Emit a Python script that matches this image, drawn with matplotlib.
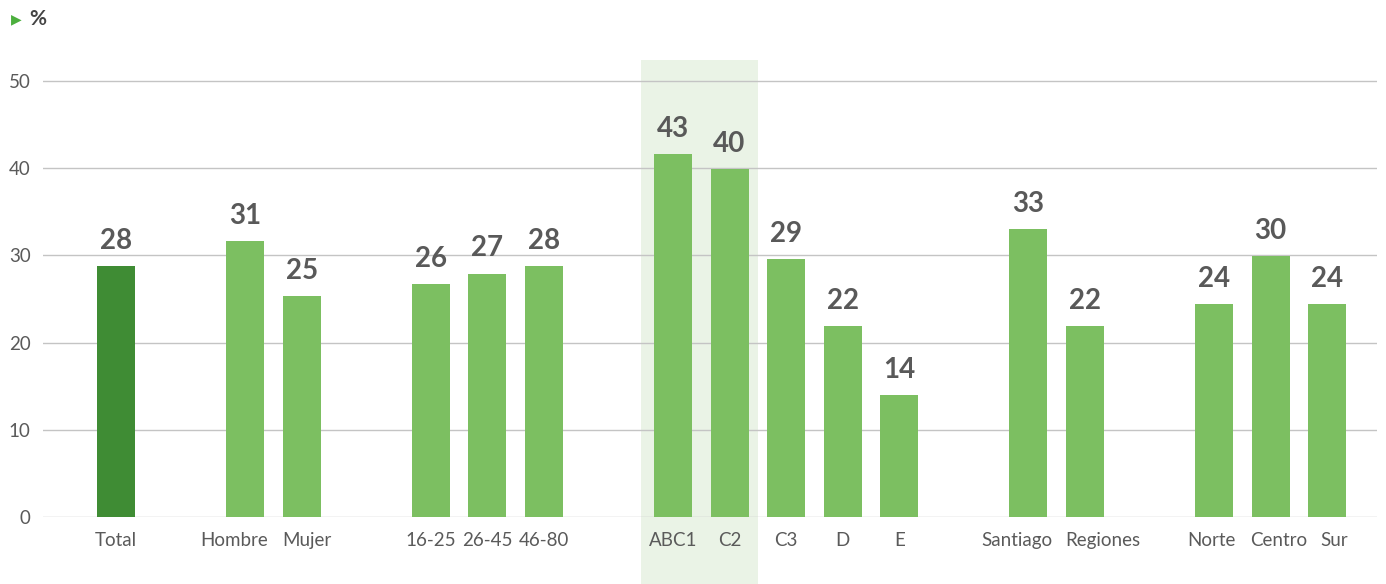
import matplotlib.pyplot as plt
import matplotlib.transforms as mtransforms
from matplotlib.patches import Rectangle

plt.rcParams['font.family'] = ['Lato', 'DejaVu Sans']

# datos
categorias = ['Total', 'Hombre', 'Mujer', '16-25', '26-45', '46-80',
              'ABC1', 'C2', 'C3', 'D', 'E', 'Santiago', 'Regiones',
              'Norte', 'Centro', 'Sur']
grupos = [0, 1, 1, 2, 2, 2, 3, 3, 3, 3, 3, 4, 4, 5, 5, 5]
alturas = [28.8, 31.6, 25.3, 26.7, 27.9, 28.8, 41.6, 39.9, 29.6, 21.9, 14.0,
           33.0, 21.9, 24.4, 29.9, 24.4]
etiquetas = ['28', '31', '25', '26', '27', '28', '43', '40', '29', '22', '14',
             '33', '22', '24', '30', '24']
destacadas = ['ABC1', 'C2']

# pequeños desplazamientos de las etiquetas del eje x (en puntos)
desplaz = {'Hombre': -8, 'Mujer': 4, 'Santiago': -8, 'Regiones': 13,
           'Norte': -2, 'Centro': 6, 'Sur': 5}

verde = '#7cbf61'
verde_oscuro = '#3f8c34'
gris_txt = '#595959'

gap = 1.28
xs = [i + g * gap for i, g in enumerate(grupos)]

fig = plt.figure(figsize=(13.86, 5.84), dpi=100)
W, H = 1386, 584
y0, y50 = 517, 81
top = 60
ymax = 50 * (y0 - top) / (y0 - y50)
ax = fig.add_axes([43 / W, (H - y0) / H, (1377 - 43) / W, (y0 - top) / H])

colores = [verde_oscuro if c == 'Total' else verde for c in categorias]
ax.bar(xs, alturas, width=0.67, color=colores, zorder=3)

for x, h, t in zip(xs, alturas, etiquetas):
    ax.annotate(t, (x, h), xytext=(0, 12.5), textcoords='offset points',
                ha='center', va='baseline', fontsize=20, color=gris_txt,
                fontweight='bold', zorder=4)

# banda destacada
idx = [categorias.index(c) for c in destacadas]
trans = mtransforms.blended_transform_factory(ax.transData, fig.transFigure)
x_izq = xs[idx[0]] - 0.57
x_der = xs[idx[-1]] + 0.5
fig.patches.append(Rectangle((x_izq, 0), x_der - x_izq, (H - top) / H,
                             transform=trans, facecolor='#eaf3e6',
                             edgecolor='none', zorder=-5))
ax.set_facecolor('none')

ax.set_xlim((43 - 116) / 56.6, (1377 - 116) / 56.6)
ax.set_ylim(0, ymax)
ax.set_yticks([0, 10, 20, 30, 40, 50])
ax.yaxis.grid(True, color='#c4c4c4', linewidth=1, zorder=1)
ax.set_axisbelow(True)
for s in ax.spines.values():
    s.set_visible(False)
ax.set_xticks(xs)
ax.set_xticklabels(categorias)
ax.tick_params(axis='both', length=0, labelsize=13.5, colors='#5a5a5a')
ax.tick_params(axis='x', pad=11)
ax.tick_params(axis='y', pad=9)

for lbl in ax.get_xticklabels():
    d = desplaz.get(lbl.get_text(), 0)
    if d:
        lbl.set_transform(lbl.get_transform() +
                          mtransforms.ScaledTranslation(d / 72, 0, fig.dpi_scale_trans))

fig.text(11 / W, 1 - 19 / H, '\u25B6', color='#4caf3e', fontsize=10,
         va='center', family=['DejaVu Sans'])
fig.text(29 / W, 1 - 19 / H, '%', color='#444444', fontsize=15,
         fontweight='bold', va='center')

fig.savefig('out.png', dpi=100)
